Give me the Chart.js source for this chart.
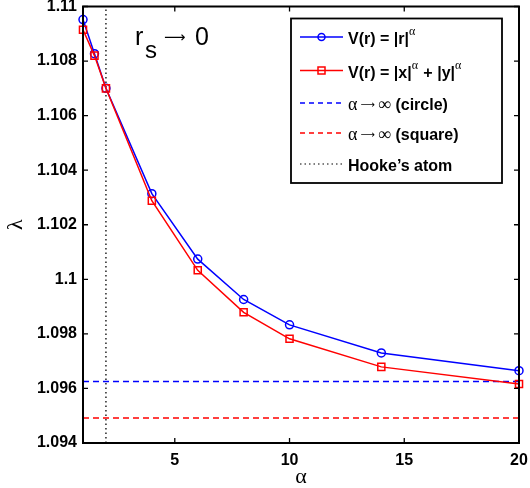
<!DOCTYPE html>
<html>
<head>
<meta charset="utf-8">
<script src="https://cdn.jsdelivr.net/npm/chart.js@4/dist/chart.umd.min.js"></script>
<style>
  html, body { margin: 0; padding: 0; background: #ffffff; }
  #wrap { width: 530px; height: 488px; position: relative; }
</style>
</head>
<body>
<div id="wrap"><canvas id="c" width="530" height="488"></canvas></div>
<script>
// ---- data ----
const alphas = [1, 1.5, 2, 4, 6, 8, 10, 14, 20];
const circleVals = [1.10952, 1.10827, 1.10700, 1.10314, 1.10074, 1.09926, 1.09833, 1.09730, 1.09665];
const squareVals = [1.10915, 1.10820, 1.10700, 1.10288, 1.10033, 1.09879, 1.09782, 1.09679, 1.09616];
const circleLimit = 1.09625;
const squareLimit = 1.09492;
const hookeAlpha = 2;
const xRange = [1, 20];
const yRange = [1.094, 1.11];
const xTicks = [5, 10, 15, 20];
const yTicks = [1.094, 1.096, 1.098, 1.1, 1.102, 1.104, 1.106, 1.108, 1.11];
const yTickLabels = ['1.094', '1.096', '1.098', '1.1', '1.102', '1.104', '1.106', '1.108', '1.11'];

const BLUE = '#0000ff', RED = '#ff0000', BLACK = '#000000';
const SANS = "'Liberation Sans', Arial, Helvetica, sans-serif";
const SERIF = "'Liberation Serif', 'DejaVu Serif', serif";
const ARROWF = "'DejaVu Sans', sans-serif";

const pts = (xs, ys) => xs.map((x, i) => ({ x: x, y: ys[i] }));

const datasets = [
  { label: 'circle', data: pts(alphas, circleVals), borderColor: BLUE, borderWidth: 1.5,
    pointStyle: 'circle', pointRadius: 4, pointBorderColor: BLUE, pointBorderWidth: 1.5,
    pointBackgroundColor: 'rgba(0,0,0,0)', clip: false, order: 1 },
  { label: 'square', data: pts(alphas, squareVals), borderColor: RED, borderWidth: 1.5,
    pointStyle: 'rect', pointRadius: 5, pointBorderColor: RED, pointBorderWidth: 1.5,
    pointBackgroundColor: 'rgba(0,0,0,0)', clip: false, order: 0 },
  { label: 'circleLimit', data: pts(xRange, [circleLimit, circleLimit]), borderColor: BLUE,
    borderWidth: 1.5, borderDash: [6, 4], pointRadius: 0, order: 2 },
  { label: 'squareLimit', data: pts(xRange, [squareLimit, squareLimit]), borderColor: RED,
    borderWidth: 1.5, borderDash: [6, 4], pointRadius: 0, order: 3 },
  { label: 'hooke', data: pts([hookeAlpha, hookeAlpha], yRange), borderColor: BLACK,
    borderWidth: 1.3, borderDash: [1.5, 3], pointRadius: 0, order: 4 }
];

const legendEntries = [
  { color: BLUE, dash: [], marker: 'circle', y: 37,
    parts: [['V(r) = |r|', 'b'], ['α', 'sup']] },
  { color: RED, dash: [], marker: 'rect', y: 70.5,
    parts: [['V(r) = |x|', 'b'], ['α', 'sup'], [' + |y|', 'b'], ['α', 'sup']] },
  { color: BLUE, dash: [5, 4], marker: null, y: 103,
    parts: [['α', 'sym'], [' ⟶ ', 'arr'], ['∞', 'sym'], [' (circle)', 'b']] },
  { color: RED, dash: [5, 4], marker: null, y: 133,
    parts: [['α', 'sym'], [' ⟶ ', 'arr'], ['∞', 'sym'], [' (square)', 'b']] },
  { color: BLACK, dash: [1.5, 3], marker: null, y: 164,
    parts: [['Hooke’s atom', 'b']] }
];

const fonts = {
  b: 'bold 16px ' + SANS,
  sup: '12px ' + SERIF,
  sym: '18px ' + SERIF,
  arr: '10px ' + ARROWF
};

const boxPlugin = {
  id: 'matlabBox',
  afterDatasetsDraw(chart) {
    const { ctx, chartArea: a, scales } = chart;
    ctx.save();
    ctx.strokeStyle = BLACK;
    ctx.lineWidth = 1.3;
    const tl = 5;
    xTicks.forEach(v => {
      const px = scales.x.getPixelForValue(v);
      ctx.beginPath();
      ctx.moveTo(px, a.bottom); ctx.lineTo(px, a.bottom - tl);
      ctx.moveTo(px, a.top); ctx.lineTo(px, a.top + tl);
      ctx.stroke();
    });
    yTicks.forEach(v => {
      const py = scales.y.getPixelForValue(v);
      ctx.beginPath();
      ctx.moveTo(a.left, py); ctx.lineTo(a.left + tl, py);
      ctx.moveTo(a.right, py); ctx.lineTo(a.right - tl, py);
      ctx.stroke();
    });
    ctx.lineWidth = 2;
    ctx.strokeRect(a.left, a.top, a.right - a.left, a.bottom - a.top);
    ctx.restore();
  },
  afterDraw(chart) {
    const { ctx } = chart;
    ctx.save();
    // annotation r_s -> 0
    ctx.fillStyle = BLACK;
    ctx.textBaseline = 'alphabetic';
    ctx.font = '25px ' + SANS;
    ctx.fillText('r', 135, 45);
    ctx.font = '24px ' + SANS;
    ctx.fillText('s', 145, 58);
    ctx.font = '15px ' + ARROWF;
    ctx.fillText('⟶', 164, 42);
    ctx.font = '25px ' + SANS;
    ctx.fillText('0', 195, 45);

    // legend box
    const L = 291, T = 18.5, R = 502, B = 183;
    ctx.fillStyle = '#ffffff';
    ctx.fillRect(L, T, R - L, B - T);
    ctx.strokeStyle = BLACK;
    ctx.lineWidth = 1.8;
    ctx.strokeRect(L, T, R - L, B - T);

    legendEntries.forEach(e => {
      ctx.strokeStyle = e.color;
      ctx.lineWidth = e.dash.length && e.dash[0] < 2 ? 1.2 : 1.5;
      ctx.setLineDash(e.dash);
      ctx.beginPath();
      ctx.moveTo(300, e.y); ctx.lineTo(343, e.y);
      ctx.stroke();
      ctx.setLineDash([]);
      if (e.marker === 'circle') {
        ctx.beginPath();
        ctx.arc(321.5, e.y, 3.5, 0, Math.PI * 2);
        ctx.stroke();
      } else if (e.marker === 'rect') {
        ctx.strokeRect(318, e.y - 3.5, 7, 7);
      }
      let x = 348;
      const base = e.y + 7;
      ctx.fillStyle = BLACK;
      e.parts.forEach(([t, kind]) => {
        ctx.font = fonts[kind];
        let yy = base;
        if (kind === 'sup') yy = base - 9;
        else if (kind === 'arr') yy = base - 2;
        ctx.fillText(t, x, yy);
        x += ctx.measureText(t).width + (kind === 'sup' ? 1 : 0);
      });
    });
    ctx.restore();
  }
};

new Chart(document.getElementById('c'), {
  type: 'line',
  data: { datasets: datasets },
  options: {
    responsive: false,
    animation: false,
    devicePixelRatio: 1,
    layout: { padding: { left: 0, right: 11, top: 6, bottom: 0 } },
    plugins: { legend: { display: false }, tooltip: { enabled: false } },
    elements: { line: { tension: 0 } },
    scales: {
      x: {
        type: 'linear', min: xRange[0], max: xRange[1],
        grid: { display: false, drawTicks: false },
        border: { display: false },
        afterBuildTicks: s => { s.ticks = xTicks.map(v => ({ value: v })); },
        afterFit: s => { s.height = 45; s.paddingLeft = 0; s.paddingRight = 0; },
        ticks: { color: BLACK, padding: 8, maxRotation: 0, autoSkip: false,
          font: { family: SANS, size: 16, weight: 'bold' } },
        title: { display: true, text: 'α', color: BLACK, align: 'center',
          font: { family: SERIF, size: 22, lineHeight: 1 }, padding: { top: 0, bottom: 0 } }
      },
      y: {
        type: 'linear', min: yRange[0], max: yRange[1],
        grid: { display: false, drawTicks: false },
        border: { display: false },
        afterBuildTicks: s => { s.ticks = yTicks.map(v => ({ value: v })); },
        afterFit: s => { s.width = 83; s.paddingTop = 0; s.paddingBottom = 0; },
        ticks: { color: BLACK, padding: 6, autoSkip: false,
          font: { family: SANS, size: 16, weight: 'bold' },
          callback: (v) => { const i = yTicks.findIndex(t => Math.abs(t - v) < 1e-9); return i >= 0 ? yTickLabels[i] : ''; } },
        title: { display: true, text: 'λ', color: BLACK,
          font: { family: SERIF, size: 22, lineHeight: 1 }, padding: { top: 5, bottom: 0 } }
      }
    }
  },
  plugins: [boxPlugin]
});
</script>
</body>
</html>
